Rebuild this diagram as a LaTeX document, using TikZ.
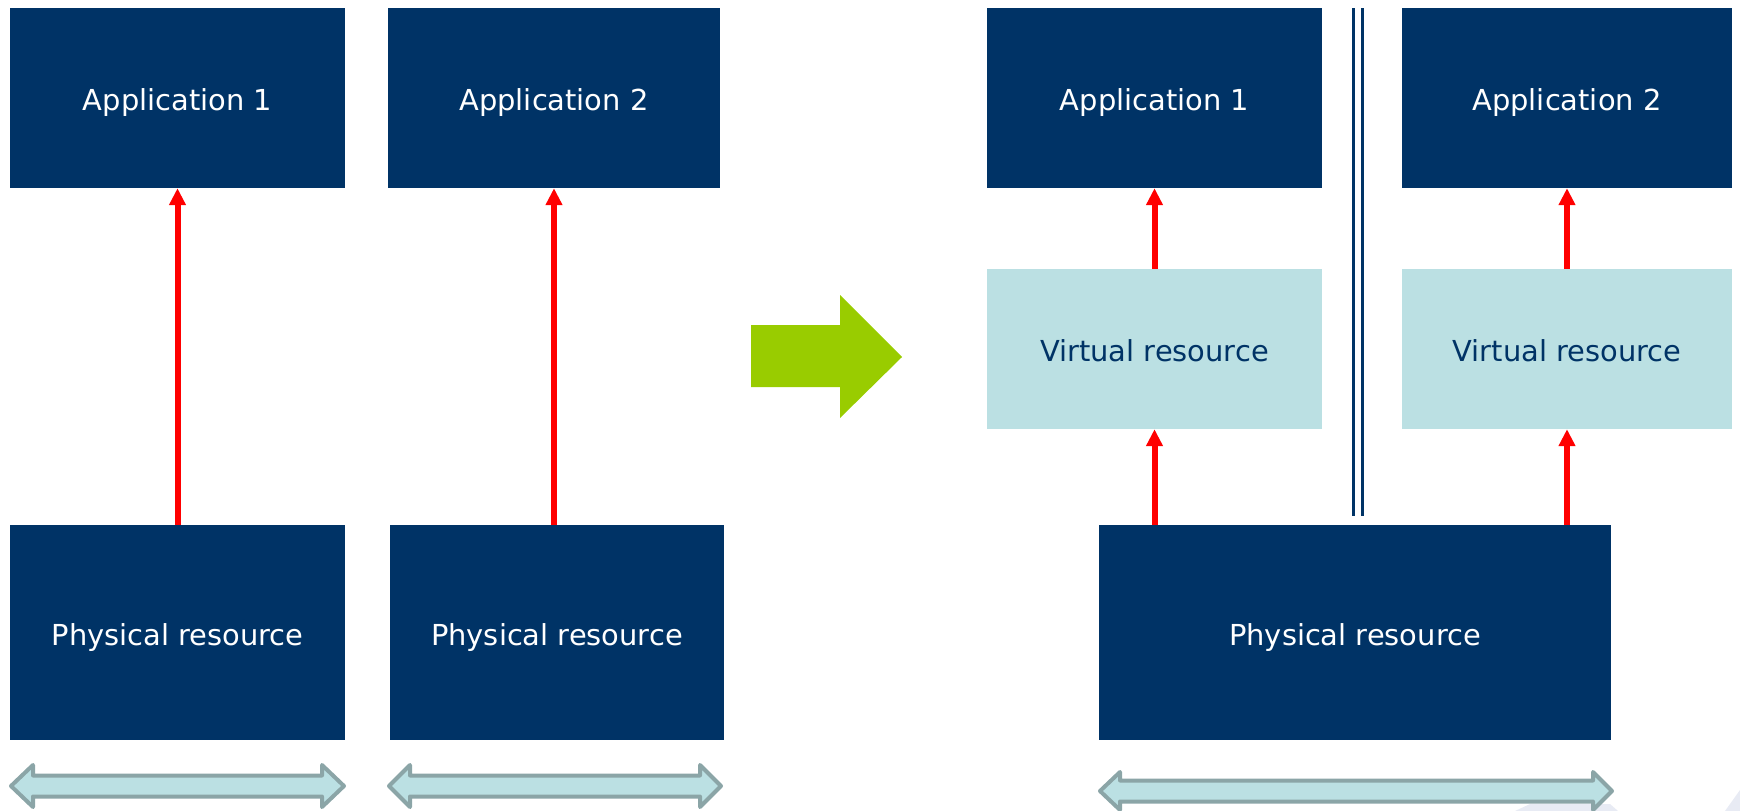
\documentclass[tikz,border=0pt]{standalone}
\usepackage{fontspec}
\setmainfont{DejaVu Sans}
\usetikzlibrary{arrows.meta}
\definecolor{navy}{HTML}{003366}
\definecolor{lteal}{HTML}{BBE0E3}
\definecolor{edgegray}{HTML}{8BA5A7}
\definecolor{lime}{HTML}{99CC00}
\definecolor{faint}{HTML}{E8EBF4}
\tikzset{
  boxtext/.style={font=\fontsize{28.9}{34}\selectfont, text height=20.9pt, text depth=0pt},
  darkbox/.style={rectangle, fill=navy, text=white, inner sep=0pt, minimum height=180pt, boxtext},
  virtbox/.style={rectangle, fill=lteal, text=navy, inner sep=0pt, minimum width=335pt, minimum height=160pt, boxtext},
  redarrow/.style={draw=red, line width=6pt, -{Triangle[width=16pt,length=17pt]}},
  dblarrow/.style={draw=edgegray, fill=lteal, line width=4pt, line join=round},
  sepline/.style={draw=navy, line width=3pt}
}
\begin{document}
\begin{tikzpicture}[x=1pt,y=-1pt]
\useasboundingbox (0,0) rectangle (1740,811);
% faint watermark fragments
\fill[faint] (1515,811) -- (1530,804) -- (1610,804) -- (1618,811) -- cycle;
\fill[faint] (1725,811) -- (1740,790) -- (1740,811) -- cycle;

% left side
\node[darkbox, minimum width=335pt] (appL1) at (177.5,98) {\raisebox{-2.5pt}{Application 1}};
\node[darkbox, minimum width=332pt] (appL2) at (554,98) {\raisebox{-2.5pt}{Application 2}};
\node[darkbox, minimum width=335pt, minimum height=215pt] (physL1) at (177.5,632.5) {\raisebox{-3pt}{Physical resource}};
\node[darkbox, minimum width=334pt, minimum height=215pt] (physL2) at (557,632.5) {\raisebox{-3pt}{Physical resource}};
\draw[redarrow] (appL1.south |- physL1.north) -- (appL1.south);
\draw[redarrow] (appL2.south |- physL2.north) -- (appL2.south);

% green arrow
\fill[lime] (751,325) -- (840,325) -- (840,295) -- (902,357) -- (840,418) -- (840,387) -- (751,387) -- cycle;

% right side
\node[darkbox, minimum width=335pt] (appR1) at (1154.5,98) {\raisebox{-2.5pt}{Application 1}};
\node[darkbox, minimum width=330pt] (appR2) at (1567,98) {\raisebox{-2.5pt}{Application 2}};
\node[virtbox] (virt1) at (1154.5,349) {\raisebox{-2.5pt}{Virtual resource}};
\node[virtbox, minimum width=330pt] (virt2) at (1567,349) {\raisebox{-2.5pt}{Virtual resource}};
\node[darkbox, minimum width=512pt, minimum height=215pt] (physR) at (1355,632.5) {\raisebox{-3pt}{Physical resource}};
\draw[redarrow] (virt1.north) -- (appR1.south);
\draw[redarrow] (virt2.north) -- (appR2.south);
\draw[redarrow] (virt1.south |- physR.north) -- (virt1.south);
\draw[redarrow] (virt2.south |- physR.north) -- (virt2.south);

% separator double line
\coordinate (s1a) at (1353.5,8);
\coordinate (s1b) at (1353.5,516);
\coordinate (s2a) at (1362,8);
\coordinate (s2b) at (1362,516);
\draw[sepline] (s1a) -- (s1b);
\draw[sepline] (s2a) -- (s2b);

% bottom double arrows
\draw[dblarrow] (11,786) -- (33,765) -- (33,775.5) -- (322,775.5) -- (322,765) -- (344,786) -- (322,807) -- (322,796.5) -- (33,796.5) -- (33,807) -- cycle;
\draw[dblarrow] (389,786) -- (410,765) -- (410,775.5) -- (700,775.5) -- (700,765) -- (721,786) -- (700,807) -- (700,796.5) -- (410,796.5) -- (410,807) -- cycle;
\draw[dblarrow] (1100,791) -- (1120,772) -- (1120,780.5) -- (1593,780.5) -- (1593,772) -- (1612,791) -- (1593,810) -- (1593,801.5) -- (1120,801.5) -- (1120,810) -- cycle;
\end{tikzpicture}
\end{document}
